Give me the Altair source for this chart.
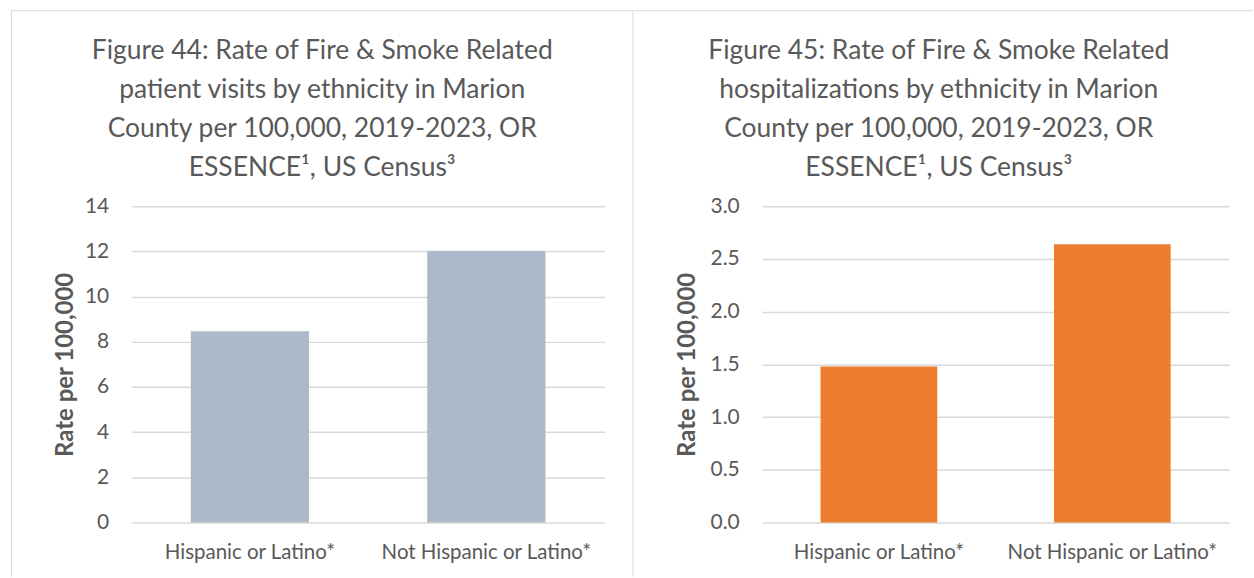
import altair as alt
import pandas as pd

# Categories and rates per 100,000
groups = ["Hispanic or Latino*", "Not Hispanic or Latino*"]
visit_rates = [8.46, 12.02]
hosp_rates = [1.48, 2.64]

visit_ticks = [0, 2, 4, 6, 8, 10, 12, 14]
hosp_ticks = [0.0, 0.5, 1.0, 1.5, 2.0, 2.5, 3.0]

visit_title = [
    "Figure 44: Rate of Fire & Smoke Related",
    "patient visits by ethnicity in Marion",
    "County per 100,000, 2019-2023, OR",
    "ESSENCE¹, US Census³",
]
hosp_title = [
    "Figure 45: Rate of Fire & Smoke Related",
    "hospitalizations by ethnicity in Marion",
    "County per 100,000, 2019-2023, OR",
    "ESSENCE¹, US Census³",
]

TEXT = "#595959"
GRID = "#d9d9d9"
FONT = "Lato"
PLOT_H = 317

one = pd.DataFrame({"k": [0]})


def frame_rule(x, x2=None, y=None, y2=None):
    enc = {"x": alt.value(x), "y": alt.value(y)}
    if x2 is not None:
        enc["x2"] = alt.value(x2)
    if y2 is not None:
        enc["y2"] = alt.value(y2)
    return alt.Chart(one).mark_rule(color=GRID, strokeWidth=1).encode(**enc)


def panel(values, ticks, fmt, color, title_lines, width, title_x, ytitle_x,
          frames):
    df = pd.DataFrame({"group": groups, "rate": values})
    bars = alt.Chart(df).mark_bar(color=color).encode(
        x=alt.X(
            "group:N",
            sort=groups,
            scale=alt.Scale(paddingInner=0.5, paddingOuter=0.25),
            axis=alt.Axis(
                title=None, labelAngle=0, domain=False, ticks=False,
                labelFont=FONT, labelFontSize=20.5, labelColor=TEXT,
                labelPadding=20, labelLimit=400,
            ),
        ),
        y=alt.Y(
            "rate:Q",
            scale=alt.Scale(domain=[ticks[0], ticks[-1]], nice=False),
            axis=alt.Axis(
                title="Rate per 100,000", values=ticks, format=fmt,
                domain=False, ticks=False, grid=True, gridColor=GRID,
                gridWidth=1.5, labelFont=FONT, labelFontSize=21,
                labelColor=TEXT, labelPadding=23, titleFont=FONT,
                titleFontSize=24, titleFontWeight="bold", titleColor=TEXT,
                titleAngle=270, titleX=ytitle_x, titleY=PLOT_H / 2,
                titleAlign="center", titleBaseline="middle",
            ),
        ),
    )
    title = alt.Chart(one).mark_text(
        text=title_lines, font=FONT, fontSize=26.5, color=TEXT,
        align="center", baseline="alphabetic", lineHeight=39.3,
    ).encode(x=alt.value(title_x), y=alt.value(-148))
    return alt.layer(bars, title, *frames).properties(width=width,
                                                      height=PLOT_H)


left = panel(
    visit_rates, visit_ticks, "d", "#adb9ca", visit_title, 474, 191, -66.5,
    [
        frame_rule(-120.5, y=-196, y2=372),
        frame_rule(-120.5, x2=502.5, y=-196),
        frame_rule(502.5, y=-196, y2=372),
    ],
)
right = panel(
    hosp_rates, hosp_ticks, ".1f", "#ed7d31", hosp_title, 468, 177, -74.5,
    [
        frame_rule(-128.5, x2=492, y=-196),
    ],
)

chart = alt.hconcat(left, right, spacing=0).configure(
    padding={"left": 11, "top": 9, "right": 0, "bottom": 0},
    background="white",
).configure_view(strokeWidth=0)

chart.save("out.html", embed_options={"renderer": "svg", "actions": False})
